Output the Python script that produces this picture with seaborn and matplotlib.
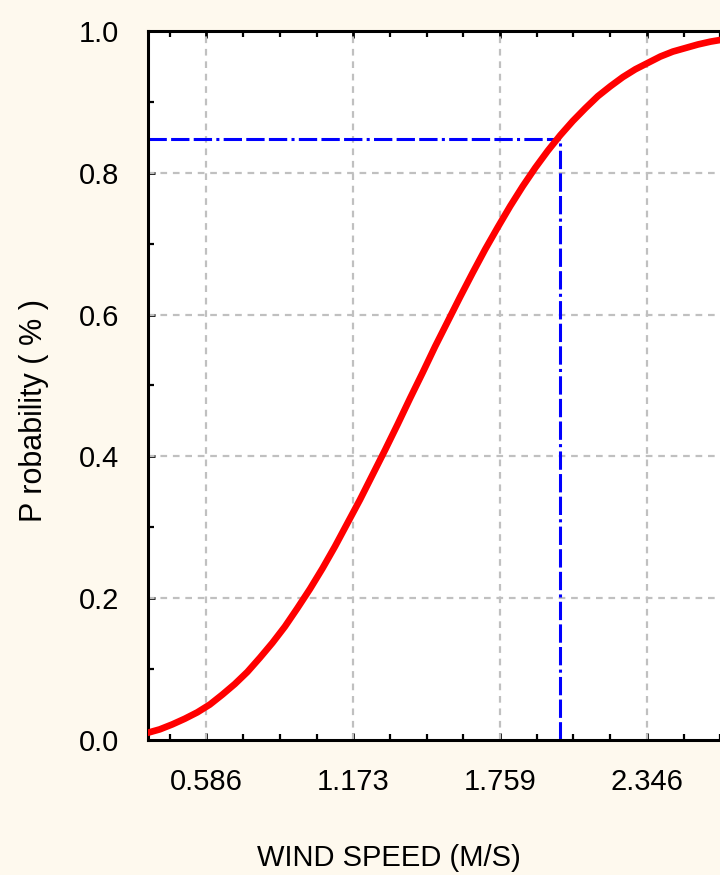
import numpy as np
import pandas as pd
import matplotlib
matplotlib.use('Agg')
import matplotlib.pyplot as plt
from matplotlib.ticker import MultipleLocator, FixedLocator, FormatStrFormatter
import seaborn as sns

# curve (wind speed, cumulative probability)
wind = [0.35, 0.40, 0.45, 0.50, 0.55, 0.60, 0.65, 0.70, 0.75, 0.80, 0.85, 0.90,
        0.95, 1.00, 1.05, 1.10, 1.15, 1.20, 1.25, 1.30, 1.35, 1.40, 1.45, 1.50,
        1.55, 1.60, 1.65, 1.70, 1.75, 1.80, 1.85, 1.90, 1.95, 2.00, 2.05, 2.10,
        2.15, 2.20, 2.25, 2.30, 2.35, 2.40, 2.45, 2.50, 2.55, 2.60, 2.65, 2.72]
prob = [0.010, 0.015, 0.022, 0.030, 0.039, 0.050, 0.064, 0.079, 0.096, 0.116,
        0.137, 0.160, 0.186, 0.213, 0.242, 0.273, 0.306, 0.339, 0.374, 0.409,
        0.445, 0.482, 0.518, 0.555, 0.590, 0.625, 0.659, 0.692, 0.723, 0.753,
        0.781, 0.807, 0.831, 0.853, 0.873, 0.891, 0.908, 0.922, 0.935, 0.946,
        0.955, 0.964, 0.971, 0.976, 0.981, 0.985, 0.988, 0.992]
xticks = [0.5865, 1.173, 1.7595, 2.346]
xticklabels = ['0.586', '1.173', '1.759', '2.346']
quant_x = 2.0
quant_p = 0.848

df = pd.DataFrame({'wind': wind, 'prob': prob})

sns.set_style('ticks')
plt.rcParams['font.family'] = ['Liberation Sans', 'DejaVu Sans']
plt.rcParams['text.color'] = 'black'
plt.rcParams['xtick.labelcolor'] = 'black'
plt.rcParams['ytick.labelcolor'] = 'black'
plt.rcParams['axes.labelcolor'] = 'black'
bg = '#FEF9EE'

fig = plt.figure(figsize=(7.2, 8.75), dpi=100, facecolor=bg)
ax = fig.add_axes([148/720, 135/875, 592/720, 709/875])
ax.set_facecolor('white')

xlo, xhi = 0.353, 2.718
ax.set_xlim(xlo, xhi)
ax.set_ylim(0, 1)

# grid
for gx in xticks:
    ax.axvline(gx, color='#c0c0c0', lw=1.6, ls=(0, (3, 2.6)), zorder=1)
for gy in [0.2, 0.4, 0.6, 0.8]:
    ax.axhline(gy, color='#c0c0c0', lw=1.6, ls=(0, (3, 2.6)), zorder=1)

dd = (0, (6, 1.4, 6, 1.4, 6, 1.4, 1, 1.4))
ax.plot([xlo, quant_x], [quant_p, quant_p], color='#0000FF', lw=2.2, ls=dd, zorder=2)
ax.plot([quant_x, quant_x], [0, quant_p], color='#0000FF', lw=2.2, ls=dd, zorder=2)

sns.lineplot(data=df, x='wind', y='prob', color='#FF0000', lw=4.8, ax=ax, zorder=3,
             solid_joinstyle='round', solid_capstyle='round')

ax.xaxis.set_major_locator(FixedLocator(xticks))
ax.set_xticklabels(xticklabels)
ax.xaxis.set_minor_locator(MultipleLocator(0.5865 / 4))
ax.yaxis.set_major_locator(MultipleLocator(0.2))
ax.yaxis.set_minor_locator(MultipleLocator(0.1))
ax.yaxis.set_major_formatter(FormatStrFormatter('%.1f'))

ax.tick_params(which='both', direction='in', top=True, right=True, color='black')
ax.tick_params(which='major', length=5, width=2)
ax.tick_params(which='minor', length=4, width=1.6)
ax.tick_params(axis='x', which='major', pad=20, labelsize=21)
ax.tick_params(axis='y', which='major', pad=21, labelsize=21)

for s in ax.spines.values():
    s.set_linewidth(2.2)
    s.set_color('black')

ax.set_xlabel('WIND SPEED (M/S)', fontsize=21)
ax.xaxis.set_label_coords(0.407, -0.146)
ax.set_ylabel('P robability ( % )', fontsize=22)
ax.yaxis.set_label_coords(-0.168, 0.465)

fig.savefig('out.png', dpi=100, facecolor=bg)
